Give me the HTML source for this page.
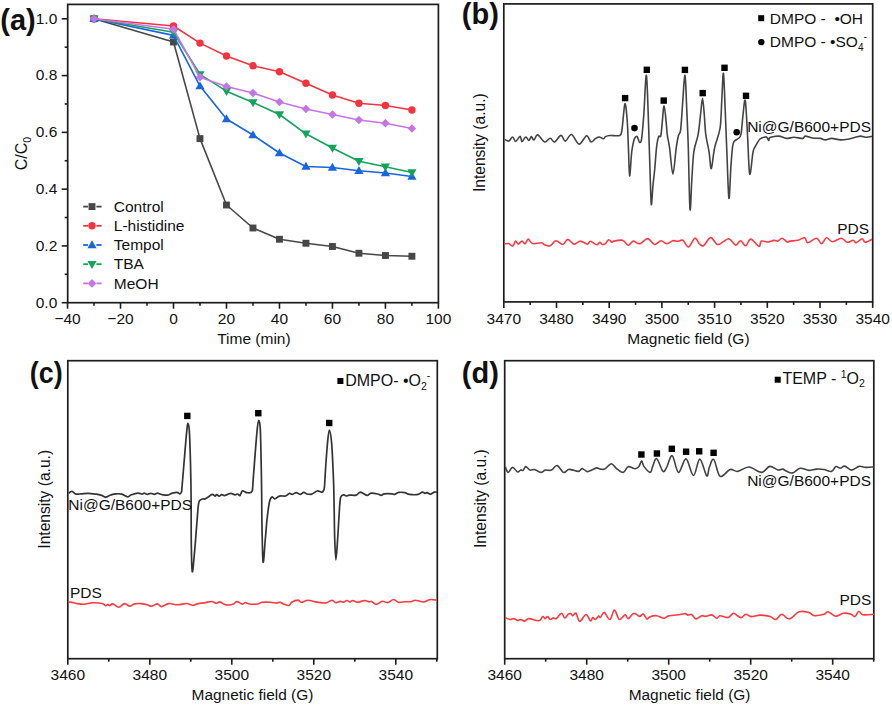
<!DOCTYPE html>
<html><head><meta charset="utf-8"><style>
html,body{margin:0;padding:0;background:#fff;}
svg{display:block;font-family:"Liberation Sans", sans-serif;fill:#111;}
</style></head><body>
<svg width="892" height="707" viewBox="0 0 892 707">
<rect x="0" y="0" width="892" height="707" fill="#fff"/>
<rect x="67.70" y="4.40" width="370.70" height="298.30" fill="none" stroke="#1c1c1c" stroke-width="1.7"/>
<line x1="61.70" y1="302.70" x2="67.70" y2="302.70" stroke="#1c1c1c" stroke-width="1.6"/>
<text x="57.30" y="307.50" font-size="15.5" text-anchor="end" >0.0</text>
<line x1="64.70" y1="274.31" x2="67.70" y2="274.31" stroke="#1c1c1c" stroke-width="1.6"/>
<line x1="61.70" y1="245.92" x2="67.70" y2="245.92" stroke="#1c1c1c" stroke-width="1.6"/>
<text x="57.30" y="250.72" font-size="15.5" text-anchor="end" >0.2</text>
<line x1="64.70" y1="217.53" x2="67.70" y2="217.53" stroke="#1c1c1c" stroke-width="1.6"/>
<line x1="61.70" y1="189.14" x2="67.70" y2="189.14" stroke="#1c1c1c" stroke-width="1.6"/>
<text x="57.30" y="193.94" font-size="15.5" text-anchor="end" >0.4</text>
<line x1="64.70" y1="160.75" x2="67.70" y2="160.75" stroke="#1c1c1c" stroke-width="1.6"/>
<line x1="61.70" y1="132.36" x2="67.70" y2="132.36" stroke="#1c1c1c" stroke-width="1.6"/>
<text x="57.30" y="137.16" font-size="15.5" text-anchor="end" >0.6</text>
<line x1="64.70" y1="103.97" x2="67.70" y2="103.97" stroke="#1c1c1c" stroke-width="1.6"/>
<line x1="61.70" y1="75.58" x2="67.70" y2="75.58" stroke="#1c1c1c" stroke-width="1.6"/>
<text x="57.30" y="80.38" font-size="15.5" text-anchor="end" >0.8</text>
<line x1="64.70" y1="47.19" x2="67.70" y2="47.19" stroke="#1c1c1c" stroke-width="1.6"/>
<line x1="61.70" y1="18.80" x2="67.70" y2="18.80" stroke="#1c1c1c" stroke-width="1.6"/>
<text x="57.30" y="23.60" font-size="15.5" text-anchor="end" >1.0</text>
<line x1="67.54" y1="302.70" x2="67.54" y2="308.70" stroke="#1c1c1c" stroke-width="1.6"/>
<text x="67.54" y="324.30" font-size="15.5" text-anchor="middle" >−40</text>
<line x1="94.03" y1="302.70" x2="94.03" y2="305.70" stroke="#1c1c1c" stroke-width="1.6"/>
<line x1="120.52" y1="302.70" x2="120.52" y2="308.70" stroke="#1c1c1c" stroke-width="1.6"/>
<text x="120.52" y="324.30" font-size="15.5" text-anchor="middle" >−20</text>
<line x1="147.01" y1="302.70" x2="147.01" y2="305.70" stroke="#1c1c1c" stroke-width="1.6"/>
<line x1="173.50" y1="302.70" x2="173.50" y2="308.70" stroke="#1c1c1c" stroke-width="1.6"/>
<text x="173.50" y="324.30" font-size="15.5" text-anchor="middle" >0</text>
<line x1="199.99" y1="302.70" x2="199.99" y2="305.70" stroke="#1c1c1c" stroke-width="1.6"/>
<line x1="226.48" y1="302.70" x2="226.48" y2="308.70" stroke="#1c1c1c" stroke-width="1.6"/>
<text x="226.48" y="324.30" font-size="15.5" text-anchor="middle" >20</text>
<line x1="252.97" y1="302.70" x2="252.97" y2="305.70" stroke="#1c1c1c" stroke-width="1.6"/>
<line x1="279.46" y1="302.70" x2="279.46" y2="308.70" stroke="#1c1c1c" stroke-width="1.6"/>
<text x="279.46" y="324.30" font-size="15.5" text-anchor="middle" >40</text>
<line x1="305.95" y1="302.70" x2="305.95" y2="305.70" stroke="#1c1c1c" stroke-width="1.6"/>
<line x1="332.44" y1="302.70" x2="332.44" y2="308.70" stroke="#1c1c1c" stroke-width="1.6"/>
<text x="332.44" y="324.30" font-size="15.5" text-anchor="middle" >60</text>
<line x1="358.93" y1="302.70" x2="358.93" y2="305.70" stroke="#1c1c1c" stroke-width="1.6"/>
<line x1="385.42" y1="302.70" x2="385.42" y2="308.70" stroke="#1c1c1c" stroke-width="1.6"/>
<text x="385.42" y="324.30" font-size="15.5" text-anchor="middle" >80</text>
<line x1="411.91" y1="302.70" x2="411.91" y2="305.70" stroke="#1c1c1c" stroke-width="1.6"/>
<line x1="438.40" y1="302.70" x2="438.40" y2="308.70" stroke="#1c1c1c" stroke-width="1.6"/>
<text x="438.40" y="324.30" font-size="15.5" text-anchor="middle" >100</text>
<text x="253.90" y="343.60" font-size="15.5" text-anchor="middle" >Time (min)</text>
<text transform="translate(27.4,153.6) rotate(-90)" font-size="16" text-anchor="middle">C/C<tspan font-size="10.5" dy="3.5">0</tspan></text>
<text transform="translate(0.30,29.80) scale(1.0,1)" font-size="29" font-weight="bold">(a)</text>
<path d="M94.0,18.8 L173.5,42.0 L200.0,138.6 L226.5,205.0 L253.0,228.0 L279.5,239.2 L305.9,243.2 L332.4,246.5 L358.9,253.2 L385.4,255.5 L411.9,256.2" fill="none" stroke="#474747" stroke-width="1.6" stroke-linejoin="round"/>
<rect x="90.58" y="15.30" width="6.90" height="6.90" fill="#474747"/>
<rect x="170.05" y="38.55" width="6.90" height="6.90" fill="#474747"/>
<rect x="196.54" y="135.15" width="6.90" height="6.90" fill="#474747"/>
<rect x="223.03" y="201.55" width="6.90" height="6.90" fill="#474747"/>
<rect x="249.52" y="224.55" width="6.90" height="6.90" fill="#474747"/>
<rect x="276.01" y="235.80" width="6.90" height="6.90" fill="#474747"/>
<rect x="302.50" y="239.80" width="6.90" height="6.90" fill="#474747"/>
<rect x="328.99" y="243.05" width="6.90" height="6.90" fill="#474747"/>
<rect x="355.48" y="249.80" width="6.90" height="6.90" fill="#474747"/>
<rect x="381.97" y="252.05" width="6.90" height="6.90" fill="#474747"/>
<rect x="408.46" y="252.80" width="6.90" height="6.90" fill="#474747"/>
<path d="M94.0,18.8 L173.5,26.0 L200.0,43.1 L226.5,56.0 L253.0,65.8 L279.5,71.8 L305.9,83.2 L332.4,95.0 L358.9,103.2 L385.4,105.5 L411.9,110.0" fill="none" stroke="#f5333f" stroke-width="1.6" stroke-linejoin="round"/>
<circle cx="94.03" cy="18.75" r="3.70" fill="#f5333f"/>
<circle cx="173.50" cy="26.00" r="3.70" fill="#f5333f"/>
<circle cx="199.99" cy="43.10" r="3.70" fill="#f5333f"/>
<circle cx="226.48" cy="56.00" r="3.70" fill="#f5333f"/>
<circle cx="252.97" cy="65.75" r="3.70" fill="#f5333f"/>
<circle cx="279.46" cy="71.75" r="3.70" fill="#f5333f"/>
<circle cx="305.95" cy="83.25" r="3.70" fill="#f5333f"/>
<circle cx="332.44" cy="95.00" r="3.70" fill="#f5333f"/>
<circle cx="358.93" cy="103.25" r="3.70" fill="#f5333f"/>
<circle cx="385.42" cy="105.50" r="3.70" fill="#f5333f"/>
<circle cx="411.91" cy="110.00" r="3.70" fill="#f5333f"/>
<path d="M94.0,18.8 L173.5,35.4 L200.0,86.1 L226.5,119.0 L253.0,135.0 L279.5,153.0 L305.9,166.5 L332.4,167.5 L358.9,170.8 L385.4,173.0 L411.9,176.5" fill="none" stroke="#1865e0" stroke-width="1.6" stroke-linejoin="round"/>
<path d="M94.03,14.06 L98.63,21.88 L89.43,21.88Z" fill="#1865e0"/>
<path d="M173.50,30.71 L178.10,38.53 L168.90,38.53Z" fill="#1865e0"/>
<path d="M199.99,81.41 L204.59,89.23 L195.39,89.23Z" fill="#1865e0"/>
<path d="M226.48,114.31 L231.08,122.13 L221.88,122.13Z" fill="#1865e0"/>
<path d="M252.97,130.31 L257.57,138.13 L248.37,138.13Z" fill="#1865e0"/>
<path d="M279.46,148.31 L284.06,156.13 L274.86,156.13Z" fill="#1865e0"/>
<path d="M305.95,161.81 L310.55,169.63 L301.35,169.63Z" fill="#1865e0"/>
<path d="M332.44,162.81 L337.04,170.63 L327.84,170.63Z" fill="#1865e0"/>
<path d="M358.93,166.06 L363.53,173.88 L354.33,173.88Z" fill="#1865e0"/>
<path d="M385.42,168.31 L390.02,176.13 L380.82,176.13Z" fill="#1865e0"/>
<path d="M411.91,171.81 L416.51,179.63 L407.31,179.63Z" fill="#1865e0"/>
<path d="M94.0,18.8 L173.5,32.2 L200.0,74.3 L226.5,91.2 L253.0,102.5 L279.5,114.5 L305.9,133.8 L332.4,148.0 L358.9,161.2 L385.4,166.8 L411.9,172.5" fill="none" stroke="#13a35a" stroke-width="1.6" stroke-linejoin="round"/>
<path d="M94.03,23.44 L98.63,15.62 L89.43,15.62Z" fill="#13a35a"/>
<path d="M173.50,36.89 L178.10,29.07 L168.90,29.07Z" fill="#13a35a"/>
<path d="M199.99,78.99 L204.59,71.17 L195.39,71.17Z" fill="#13a35a"/>
<path d="M226.48,95.94 L231.08,88.12 L221.88,88.12Z" fill="#13a35a"/>
<path d="M252.97,107.19 L257.57,99.37 L248.37,99.37Z" fill="#13a35a"/>
<path d="M279.46,119.19 L284.06,111.37 L274.86,111.37Z" fill="#13a35a"/>
<path d="M305.95,138.44 L310.55,130.62 L301.35,130.62Z" fill="#13a35a"/>
<path d="M332.44,152.69 L337.04,144.87 L327.84,144.87Z" fill="#13a35a"/>
<path d="M358.93,165.94 L363.53,158.12 L354.33,158.12Z" fill="#13a35a"/>
<path d="M385.42,171.44 L390.02,163.62 L380.82,163.62Z" fill="#13a35a"/>
<path d="M411.91,177.19 L416.51,169.37 L407.31,169.37Z" fill="#13a35a"/>
<path d="M94.0,18.8 L173.5,29.2 L200.0,77.2 L226.5,86.5 L253.0,93.0 L279.5,102.0 L305.9,109.0 L332.4,114.5 L358.9,120.0 L385.4,123.2 L411.9,128.5" fill="none" stroke="#c574e6" stroke-width="1.6" stroke-linejoin="round"/>
<path d="M94.03,14.45 L98.33,18.75 L94.03,23.05 L89.73,18.75Z" fill="#c574e6"/>
<path d="M173.50,24.90 L177.80,29.20 L173.50,33.50 L169.20,29.20Z" fill="#c574e6"/>
<path d="M199.99,72.90 L204.29,77.20 L199.99,81.50 L195.69,77.20Z" fill="#c574e6"/>
<path d="M226.48,82.20 L230.78,86.50 L226.48,90.80 L222.18,86.50Z" fill="#c574e6"/>
<path d="M252.97,88.70 L257.27,93.00 L252.97,97.30 L248.67,93.00Z" fill="#c574e6"/>
<path d="M279.46,97.70 L283.76,102.00 L279.46,106.30 L275.16,102.00Z" fill="#c574e6"/>
<path d="M305.95,104.70 L310.25,109.00 L305.95,113.30 L301.65,109.00Z" fill="#c574e6"/>
<path d="M332.44,110.20 L336.74,114.50 L332.44,118.80 L328.14,114.50Z" fill="#c574e6"/>
<path d="M358.93,115.70 L363.23,120.00 L358.93,124.30 L354.63,120.00Z" fill="#c574e6"/>
<path d="M385.42,118.95 L389.72,123.25 L385.42,127.55 L381.12,123.25Z" fill="#c574e6"/>
<path d="M411.91,124.20 L416.21,128.50 L411.91,132.80 L407.61,128.50Z" fill="#c574e6"/>
<line x1="83.20" y1="206.60" x2="88.00" y2="206.60" stroke="#474747" stroke-width="1.8"/>
<line x1="96.40" y1="206.60" x2="101.60" y2="206.60" stroke="#474747" stroke-width="1.8"/>
<rect x="88.55" y="203.15" width="6.90" height="6.90" fill="#474747"/>
<text x="113.80" y="211.80" font-size="15.5" text-anchor="start" >Control</text>
<line x1="83.20" y1="225.80" x2="88.00" y2="225.80" stroke="#f5333f" stroke-width="1.8"/>
<line x1="96.40" y1="225.80" x2="101.60" y2="225.80" stroke="#f5333f" stroke-width="1.8"/>
<circle cx="92.00" cy="225.80" r="3.70" fill="#f5333f"/>
<text x="113.80" y="231.00" font-size="15.5" text-anchor="start" >L-histidine</text>
<line x1="83.20" y1="245.00" x2="88.00" y2="245.00" stroke="#1865e0" stroke-width="1.8"/>
<line x1="96.40" y1="245.00" x2="101.60" y2="245.00" stroke="#1865e0" stroke-width="1.8"/>
<path d="M92.00,240.31 L96.60,248.13 L87.40,248.13Z" fill="#1865e0"/>
<text x="113.80" y="250.20" font-size="15.5" text-anchor="start" >Tempol</text>
<line x1="83.20" y1="264.20" x2="88.00" y2="264.20" stroke="#13a35a" stroke-width="1.8"/>
<line x1="96.40" y1="264.20" x2="101.60" y2="264.20" stroke="#13a35a" stroke-width="1.8"/>
<path d="M92.00,268.89 L96.60,261.07 L87.40,261.07Z" fill="#13a35a"/>
<text x="113.80" y="269.40" font-size="15.5" text-anchor="start" >TBA</text>
<line x1="83.20" y1="283.40" x2="88.00" y2="283.40" stroke="#c574e6" stroke-width="1.8"/>
<line x1="96.40" y1="283.40" x2="101.60" y2="283.40" stroke="#c574e6" stroke-width="1.8"/>
<path d="M92.00,279.10 L96.30,283.40 L92.00,287.70 L87.70,283.40Z" fill="#c574e6"/>
<text x="113.80" y="288.60" font-size="15.5" text-anchor="start" >MeOH</text>
<rect x="503.80" y="3.90" width="368.90" height="298.00" fill="none" stroke="#1c1c1c" stroke-width="1.7"/>
<line x1="503.80" y1="301.90" x2="503.80" y2="307.90" stroke="#1c1c1c" stroke-width="1.6"/>
<text x="503.80" y="323.80" font-size="15.5" text-anchor="middle" >3470</text>
<line x1="530.15" y1="301.90" x2="530.15" y2="304.90" stroke="#1c1c1c" stroke-width="1.6"/>
<line x1="556.50" y1="301.90" x2="556.50" y2="307.90" stroke="#1c1c1c" stroke-width="1.6"/>
<text x="556.50" y="323.80" font-size="15.5" text-anchor="middle" >3480</text>
<line x1="582.85" y1="301.90" x2="582.85" y2="304.90" stroke="#1c1c1c" stroke-width="1.6"/>
<line x1="609.20" y1="301.90" x2="609.20" y2="307.90" stroke="#1c1c1c" stroke-width="1.6"/>
<text x="609.20" y="323.80" font-size="15.5" text-anchor="middle" >3490</text>
<line x1="635.55" y1="301.90" x2="635.55" y2="304.90" stroke="#1c1c1c" stroke-width="1.6"/>
<line x1="661.90" y1="301.90" x2="661.90" y2="307.90" stroke="#1c1c1c" stroke-width="1.6"/>
<text x="661.90" y="323.80" font-size="15.5" text-anchor="middle" >3500</text>
<line x1="688.25" y1="301.90" x2="688.25" y2="304.90" stroke="#1c1c1c" stroke-width="1.6"/>
<line x1="714.60" y1="301.90" x2="714.60" y2="307.90" stroke="#1c1c1c" stroke-width="1.6"/>
<text x="714.60" y="323.80" font-size="15.5" text-anchor="middle" >3510</text>
<line x1="740.95" y1="301.90" x2="740.95" y2="304.90" stroke="#1c1c1c" stroke-width="1.6"/>
<line x1="767.30" y1="301.90" x2="767.30" y2="307.90" stroke="#1c1c1c" stroke-width="1.6"/>
<text x="767.30" y="323.80" font-size="15.5" text-anchor="middle" >3520</text>
<line x1="793.65" y1="301.90" x2="793.65" y2="304.90" stroke="#1c1c1c" stroke-width="1.6"/>
<line x1="820.00" y1="301.90" x2="820.00" y2="307.90" stroke="#1c1c1c" stroke-width="1.6"/>
<text x="820.00" y="323.80" font-size="15.5" text-anchor="middle" >3530</text>
<line x1="846.35" y1="301.90" x2="846.35" y2="304.90" stroke="#1c1c1c" stroke-width="1.6"/>
<line x1="872.70" y1="301.90" x2="872.70" y2="307.90" stroke="#1c1c1c" stroke-width="1.6"/>
<text x="872.70" y="323.80" font-size="15.5" text-anchor="middle" >3540</text>
<text x="688.40" y="343.60" font-size="15.5" text-anchor="middle" >Magnetic field (G)</text>
<text transform="translate(485.4,142.7) rotate(-90)" font-size="15.6" text-anchor="middle">Intensity (a.u.)</text>
<text transform="translate(461.80,23.80) scale(1.0,1)" font-size="29" font-weight="bold">(b)</text>
<path d="M505.0,139.5 C505.6,139.8 507.5,141.5 508.8,141.1 C510.1,140.7 511.5,136.9 512.6,137.0 C513.8,137.1 514.5,141.5 515.7,141.4 C517.0,141.3 519.1,136.4 520.1,136.4 C521.1,136.4 521.1,141.5 522.0,141.6 C522.9,141.7 524.6,137.2 525.7,137.0 C526.9,136.8 528.0,140.5 528.9,140.4 C529.8,140.3 530.6,136.7 531.4,136.6 C532.2,136.5 532.8,140.2 533.9,139.9 C535.0,139.6 535.9,134.6 537.7,134.9 C539.5,135.2 542.5,141.4 544.6,142.0 C546.7,142.6 548.5,138.3 550.2,138.3 C551.9,138.3 552.8,142.5 554.6,142.0 C556.4,141.5 559.1,135.6 560.9,135.4 C562.7,135.2 563.5,141.2 565.3,141.1 C567.1,140.9 569.3,134.0 571.6,134.5 C573.9,135.0 576.6,144.0 579.1,144.2 C581.6,144.4 584.6,136.1 586.6,135.7 C588.6,135.3 589.5,141.5 591.0,142.0 C592.5,142.5 594.0,139.4 595.4,138.6 C596.8,137.8 597.9,137.0 599.2,137.0 C600.5,137.0 602.2,138.9 603.3,138.8 C604.3,138.7 604.4,137.2 605.5,136.6 C606.6,136.0 607.5,135.7 609.9,135.5 C612.3,135.3 617.7,136.4 619.7,135.5 C621.7,134.6 621.3,133.5 621.9,130.1 C622.5,126.7 623.0,119.4 623.5,115.0 C624.0,110.6 624.6,102.4 625.2,103.8 C625.9,105.2 626.9,115.8 627.4,123.5 C627.9,131.2 628.1,141.2 628.5,150.0 C628.9,158.8 629.1,175.7 629.6,176.0 C630.1,176.3 631.1,157.7 631.7,152.0 C632.4,146.3 633.0,144.4 633.5,142.0 C634.0,139.6 634.4,138.6 635.0,137.7 C635.6,136.8 636.5,135.9 637.2,136.6 C637.9,137.3 638.7,141.7 639.4,142.1 C640.1,142.5 640.9,143.4 641.6,138.8 C642.3,134.2 643.0,125.3 643.8,114.7 C644.6,104.1 645.6,73.5 646.4,75.3 C647.2,77.1 648.0,109.9 648.6,125.7 C649.2,141.5 649.5,156.9 650.0,170.0 C650.5,183.1 650.8,202.0 651.3,204.5 C651.8,207.0 652.4,190.8 653.0,185.0 C653.6,179.2 654.1,175.7 654.7,169.5 C655.3,163.3 655.9,153.2 656.5,147.8 C657.1,142.4 657.9,138.8 658.6,136.8 C659.3,134.8 660.2,138.2 660.8,135.7 C661.4,133.2 661.8,126.9 662.3,122.0 C662.8,117.1 663.4,105.8 664.1,106.1 C664.8,106.4 665.8,118.7 666.3,123.6 C666.8,128.5 666.8,131.7 667.4,135.7 C668.0,139.7 668.7,141.4 669.6,147.8 C670.5,154.2 671.8,174.1 672.9,174.1 C674.0,174.1 675.3,154.2 676.2,147.8 C677.1,141.4 677.7,138.6 678.4,135.7 C679.1,132.8 679.9,135.3 680.6,130.2 C681.3,125.1 681.8,114.1 682.5,105.0 C683.2,95.9 684.3,74.6 685.0,75.4 C685.7,76.2 686.2,97.9 686.8,110.0 C687.3,122.1 687.8,131.3 688.3,147.8 C688.8,164.3 689.4,203.8 690.0,209.2 C690.6,214.6 691.2,189.5 691.8,180.0 C692.4,170.5 692.8,159.7 693.8,152.1 C694.8,144.5 697.0,140.8 698.1,134.6 C699.2,128.4 699.8,121.0 700.5,115.0 C701.2,109.0 701.9,98.4 702.5,98.4 C703.1,98.4 703.8,109.0 704.3,115.0 C704.8,121.0 705.0,128.4 705.8,134.6 C706.6,140.8 708.2,146.4 709.1,152.1 C710.0,157.8 710.4,169.3 711.3,168.6 C712.2,167.9 713.1,154.6 714.6,147.8 C716.1,141.0 718.9,136.0 720.1,128.0 C721.3,120.0 721.2,109.1 721.8,100.0 C722.3,90.9 722.9,72.4 723.4,73.2 C723.9,74.0 724.5,92.6 725.0,105.0 C725.5,117.4 726.1,132.3 726.7,147.8 C727.4,163.3 728.2,195.3 728.9,198.2 C729.6,201.1 730.3,174.1 731.0,165.0 C731.7,155.9 732.1,147.7 733.2,143.4 C734.3,139.1 736.3,140.5 737.6,139.0 C738.9,137.5 740.0,138.6 740.9,134.6 C741.8,130.6 742.3,120.7 743.0,115.0 C743.7,109.3 744.5,97.3 745.3,100.6 C746.0,103.9 746.8,122.3 747.5,134.6 C748.2,146.8 748.8,171.2 749.7,174.1 C750.6,177.0 752.1,156.7 753.0,152.1 C753.9,147.5 754.0,148.9 755.2,146.7 C756.4,144.5 758.3,140.6 760.0,139.0 C761.7,137.4 764.1,137.3 765.3,137.0 C766.4,136.7 766.3,136.7 766.9,137.3 C767.5,137.9 768.3,140.4 768.8,140.5 C769.3,140.6 768.3,138.3 770.0,137.6 C771.7,136.9 776.1,136.0 778.8,136.1 C781.5,136.2 783.9,138.2 786.4,138.4 C788.9,138.6 791.2,137.3 793.9,137.3 C796.6,137.3 800.8,138.6 802.7,138.4 C804.6,138.2 803.5,136.2 805.2,136.1 C806.9,136.0 810.2,137.6 812.7,138.0 C815.2,138.4 818.2,138.1 820.3,138.4 C822.4,138.7 823.4,139.9 825.3,139.9 C827.2,139.9 829.1,138.4 831.6,138.4 C834.1,138.4 837.7,139.8 840.4,139.9 C843.1,140.0 845.4,139.6 847.9,139.2 C850.4,138.8 853.3,137.8 855.4,137.3 C857.5,136.8 858.6,136.1 860.5,136.1 C862.4,136.1 864.8,137.3 866.7,137.3 C868.6,137.3 871.1,136.5 872.0,136.3" fill="none" stroke="#424242" stroke-width="1.6" stroke-linejoin="round"/>
<path d="M504.4,243.8 C505.1,243.8 507.4,243.2 508.8,243.6 C510.2,244.0 511.5,246.5 512.6,246.1 C513.8,245.7 514.8,241.4 515.7,241.1 C516.6,240.8 517.2,244.1 518.2,244.1 C519.2,244.1 520.9,241.1 522.0,241.1 C523.1,241.1 524.1,244.1 525.1,243.8 C526.1,243.5 527.0,239.1 528.3,239.1 C529.5,239.1 530.4,243.0 532.6,243.6 C534.8,244.2 539.3,242.6 541.4,242.8 C543.5,243.1 543.7,244.6 545.2,245.1 C546.7,245.6 548.4,246.4 550.2,245.7 C552.0,245.0 553.8,240.9 555.9,240.7 C558.0,240.5 560.8,244.7 562.8,244.5 C564.8,244.3 565.9,239.5 567.8,239.4 C569.7,239.3 572.0,243.8 574.1,244.1 C576.2,244.4 578.2,241.1 580.4,241.1 C582.6,241.1 585.6,244.1 587.3,244.1 C589.0,244.1 588.8,241.2 590.4,241.3 C592.0,241.4 595.1,244.6 596.7,244.8 C598.3,245.0 598.9,242.4 599.8,242.3 C600.7,242.2 601.3,244.3 602.3,244.5 C603.2,244.7 604.5,244.4 605.5,243.6 C606.5,242.8 607.5,240.0 608.6,239.8 C609.7,239.6 611.1,242.0 612.0,242.2 C612.9,242.4 612.0,241.4 613.8,241.1 C615.6,240.8 620.2,239.6 622.6,240.3 C625.0,241.0 626.4,245.2 628.2,245.3 C630.0,245.4 631.3,241.3 633.2,241.1 C635.1,240.8 637.1,244.2 639.5,243.8 C641.9,243.4 645.2,238.5 647.7,238.6 C650.2,238.7 652.4,244.2 654.6,244.5 C656.8,244.8 658.8,240.8 660.9,240.7 C663.0,240.6 665.1,243.8 667.1,243.8 C669.1,243.8 671.0,241.1 672.8,240.7 C674.6,240.3 676.1,241.4 677.8,241.3 C679.5,241.2 681.0,239.4 682.8,240.3 C684.6,241.2 686.5,247.3 688.5,247.0 C690.5,246.7 693.0,238.8 694.8,238.2 C696.6,237.6 697.8,242.3 699.2,243.6 C700.7,244.8 701.6,246.7 703.5,245.7 C705.4,244.7 708.3,237.9 710.5,237.6 C712.7,237.3 715.1,243.0 716.7,244.1 C718.3,245.2 718.8,244.3 720.0,243.9 C721.2,243.5 722.2,242.2 723.8,241.4 C725.4,240.6 727.4,238.3 729.4,238.9 C731.4,239.5 733.8,244.8 735.7,245.1 C737.6,245.4 739.0,240.6 740.7,240.7 C742.4,240.8 744.0,246.1 745.7,245.8 C747.4,245.5 748.6,239.0 750.8,239.1 C753.0,239.2 757.1,246.1 758.9,246.4 C760.7,246.7 759.8,241.8 761.4,241.1 C763.0,240.4 766.2,242.1 768.3,242.0 C770.4,241.9 772.4,240.6 774.0,240.4 C775.6,240.2 776.4,241.5 777.8,241.1 C779.2,240.7 780.6,238.0 782.2,238.2 C783.8,238.3 785.9,241.5 787.2,242.0 C788.5,242.5 788.1,241.4 789.9,241.1 C791.7,240.8 795.3,240.9 797.8,240.3 C800.3,239.7 803.1,237.3 804.7,237.7 C806.4,238.1 805.7,242.6 807.7,242.7 C809.7,242.8 814.3,238.1 816.6,238.3 C818.9,238.5 820.0,243.8 821.6,243.7 C823.2,243.6 824.7,238.0 826.5,237.7 C828.3,237.4 829.9,241.6 832.4,241.7 C834.9,241.8 838.8,238.2 841.3,238.3 C843.8,238.4 845.3,242.0 847.3,242.3 C849.3,242.6 851.7,240.2 853.2,240.3 C854.7,240.4 854.7,243.0 856.2,242.7 C857.7,242.4 860.6,238.8 862.1,238.7 C863.6,238.6 863.5,242.2 865.1,242.3 C866.8,242.4 870.9,239.8 872.0,239.3" fill="none" stroke="#fb3a42" stroke-width="1.6" stroke-linejoin="round"/>
<rect x="621.90" y="94.90" width="6.40" height="6.40" fill="#000"/>
<rect x="643.60" y="66.60" width="6.40" height="6.40" fill="#000"/>
<rect x="660.50" y="97.40" width="6.40" height="6.40" fill="#000"/>
<rect x="681.70" y="66.70" width="6.40" height="6.40" fill="#000"/>
<rect x="699.50" y="89.90" width="6.40" height="6.40" fill="#000"/>
<rect x="721.30" y="64.60" width="6.40" height="6.40" fill="#000"/>
<rect x="742.80" y="92.60" width="6.40" height="6.40" fill="#000"/>
<circle cx="634.50" cy="128.10" r="3.30" fill="#000"/>
<circle cx="736.70" cy="132.30" r="3.30" fill="#000"/>
<rect x="758.20" y="15.20" width="6.00" height="6.00" fill="#000"/>
<circle cx="761.30" cy="42.10" r="3.20" fill="#000"/>
<text x="769.80" y="24.10" font-size="15.5" text-anchor="start" >DMPO - &#160;•OH</text>
<text x="769.80" y="47.40" font-size="15.5" text-anchor="start" >DMPO - •SO<tspan font-size="10" dy="3.5">4</tspan><tspan font-size="10" dy="-11">-</tspan></text>
<text x="871.00" y="131.50" font-size="15.5" text-anchor="end" >Ni@G/B600+PDS</text>
<text x="869.00" y="234.40" font-size="15.5" text-anchor="end" >PDS</text>
<rect x="67.80" y="360.70" width="369.50" height="298.00" fill="none" stroke="#1c1c1c" stroke-width="1.7"/>
<line x1="67.80" y1="658.70" x2="67.80" y2="664.70" stroke="#1c1c1c" stroke-width="1.6"/>
<text x="67.80" y="680.00" font-size="15.5" text-anchor="middle" >3460</text>
<line x1="108.80" y1="658.70" x2="108.80" y2="661.70" stroke="#1c1c1c" stroke-width="1.6"/>
<line x1="149.80" y1="658.70" x2="149.80" y2="664.70" stroke="#1c1c1c" stroke-width="1.6"/>
<text x="149.80" y="680.00" font-size="15.5" text-anchor="middle" >3480</text>
<line x1="190.80" y1="658.70" x2="190.80" y2="661.70" stroke="#1c1c1c" stroke-width="1.6"/>
<line x1="231.80" y1="658.70" x2="231.80" y2="664.70" stroke="#1c1c1c" stroke-width="1.6"/>
<text x="231.80" y="680.00" font-size="15.5" text-anchor="middle" >3500</text>
<line x1="272.80" y1="658.70" x2="272.80" y2="661.70" stroke="#1c1c1c" stroke-width="1.6"/>
<line x1="313.80" y1="658.70" x2="313.80" y2="664.70" stroke="#1c1c1c" stroke-width="1.6"/>
<text x="313.80" y="680.00" font-size="15.5" text-anchor="middle" >3520</text>
<line x1="354.80" y1="658.70" x2="354.80" y2="661.70" stroke="#1c1c1c" stroke-width="1.6"/>
<line x1="395.80" y1="658.70" x2="395.80" y2="664.70" stroke="#1c1c1c" stroke-width="1.6"/>
<text x="395.80" y="680.00" font-size="15.5" text-anchor="middle" >3540</text>
<line x1="436.80" y1="658.70" x2="436.80" y2="661.70" stroke="#1c1c1c" stroke-width="1.6"/>
<text x="252.50" y="700.40" font-size="15.45" text-anchor="middle" >Magnetic field (G)</text>
<text transform="translate(49.7,499.3) rotate(-90)" font-size="15.6" text-anchor="middle">Intensity (a.u.)</text>
<text transform="translate(29.70,383.00) scale(0.93,1)" font-size="29" font-weight="bold">(c)</text>
<path d="M68.7,493.1 C69.2,492.8 70.8,491.2 72.0,491.4 C73.2,491.6 74.5,493.7 76.1,494.1 C77.7,494.5 79.4,493.9 81.4,493.8 C83.4,493.7 85.7,493.2 88.2,493.3 C90.7,493.4 94.0,493.9 96.2,494.2 C98.4,494.5 100.0,494.9 101.6,495.4 C103.2,495.9 104.1,497.2 105.7,497.1 C107.3,497.0 109.2,495.4 111.0,494.9 C112.8,494.3 114.6,493.9 116.4,493.8 C118.2,493.7 120.2,493.7 121.8,494.1 C123.4,494.5 125.0,495.7 126.0,496.1 C127.0,496.6 127.1,497.0 128.0,496.8 C128.9,496.6 129.7,495.4 131.4,494.8 C133.1,494.2 136.3,493.2 138.1,493.1 C139.9,493.0 141.1,494.1 142.1,494.1 C143.1,494.1 143.3,493.1 144.2,493.1 C145.1,493.1 146.4,494.3 147.5,494.3 C148.6,494.3 149.8,493.3 150.9,493.3 C152.0,493.3 153.1,494.3 154.2,494.3 C155.3,494.3 156.4,493.1 157.6,493.1 C158.8,493.1 159.9,494.2 161.6,494.5 C163.3,494.8 165.9,495.3 167.7,495.1 C169.5,494.9 170.8,493.6 172.4,493.1 C174.0,492.7 175.9,492.3 177.1,492.4 C178.3,492.5 179.1,493.9 179.8,493.8 C180.5,493.7 181.0,493.1 181.4,492.0 C181.8,490.9 181.4,494.0 182.0,487.2 C182.6,480.4 184.2,460.5 185.0,451.1 C185.8,441.7 186.3,435.2 186.8,430.6 C187.3,426.0 187.4,423.4 187.8,423.4 C188.2,423.4 188.9,424.0 189.3,430.6 C189.8,437.2 190.2,451.7 190.5,463.1 C190.8,474.5 191.0,485.7 191.1,499.2 C191.2,512.7 191.1,532.1 191.3,544.2 C191.5,556.3 191.7,570.8 192.3,571.8 C192.9,572.8 193.9,558.8 194.7,550.2 C195.5,541.6 196.5,527.5 197.1,520.1 C197.7,512.7 197.9,508.8 198.3,505.6 C198.7,502.4 198.8,501.9 199.5,500.8 C200.2,499.7 201.6,499.3 202.5,499.0 C203.4,498.7 203.8,499.4 204.7,499.1 C205.6,498.8 206.9,497.9 208.1,497.1 C209.3,496.3 210.9,494.5 212.1,494.4 C213.3,494.2 214.5,496.2 215.2,496.2 C215.9,496.2 215.8,494.6 216.5,494.6 C217.2,494.6 218.3,496.1 219.2,496.1 C220.0,496.1 220.8,494.7 221.6,494.6 C222.4,494.5 223.2,495.6 224.2,495.6 C225.2,495.6 226.5,494.8 227.6,494.4 C228.7,494.0 229.8,493.3 231.0,493.4 C232.2,493.5 233.9,494.7 235.0,494.8 C236.1,494.9 236.9,493.9 237.7,494.0 C238.5,494.1 239.3,496.1 240.0,495.6 C240.7,495.1 241.4,491.8 242.1,491.1 C242.8,490.4 243.6,491.2 244.4,491.5 C245.2,491.8 245.8,492.7 247.1,492.7 C248.4,492.7 251.0,493.6 252.0,491.4 C253.0,489.2 252.6,486.6 253.2,479.4 C253.8,472.2 254.9,456.7 255.6,448.1 C256.3,439.5 256.9,432.2 257.4,427.6 C257.9,423.0 258.2,420.4 258.7,420.4 C259.2,420.4 259.8,421.0 260.2,427.6 C260.6,434.2 260.9,448.5 261.1,460.1 C261.4,471.7 261.6,486.8 261.7,497.0 C261.8,507.2 261.7,510.3 261.9,521.1 C262.1,531.9 262.5,559.0 263.1,562.0 C263.7,565.0 264.6,546.4 265.3,539.2 C266.0,532.0 266.4,524.9 267.1,518.7 C267.8,512.5 268.7,505.4 269.5,501.8 C270.3,498.2 271.0,497.5 271.9,497.0 C272.8,496.5 273.6,498.9 274.9,498.8 C276.1,498.7 277.6,496.6 279.4,496.1 C281.2,495.6 283.8,496.4 285.5,496.0 C287.2,495.6 288.4,493.7 289.5,493.4 C290.6,493.1 291.1,494.5 292.2,494.4 C293.3,494.3 294.9,492.7 296.3,492.7 C297.7,492.7 299.1,494.4 300.3,494.4 C301.5,494.3 302.6,492.5 303.7,492.4 C304.8,492.3 305.7,493.7 307.0,494.0 C308.3,494.3 310.0,494.6 311.7,494.1 C313.4,493.6 315.5,491.3 317.2,491.0 C318.9,490.7 321.0,492.2 322.0,492.2 C323.0,492.2 322.8,491.8 323.2,491.0 C323.6,490.2 324.0,491.2 324.4,487.4 C324.8,483.6 325.1,475.3 325.6,468.1 C326.1,460.9 326.8,450.4 327.4,444.1 C328.0,437.8 328.6,430.2 329.3,430.2 C330.0,430.2 331.0,435.8 331.7,444.1 C332.4,452.4 333.1,470.1 333.5,480.2 C333.9,490.3 333.9,495.4 334.1,505.0 C334.3,514.6 334.4,529.0 334.7,538.1 C335.0,547.2 335.4,559.8 335.9,559.8 C336.4,559.8 337.1,546.7 337.7,538.1 C338.3,529.5 339.0,514.8 339.5,508.0 C340.0,501.2 340.0,499.4 340.7,497.2 C341.4,495.0 342.8,495.0 343.7,494.8 C344.6,494.6 345.2,495.9 346.1,496.0 C347.1,496.1 347.7,495.2 349.4,495.1 C351.1,495.0 354.3,495.6 356.2,495.1 C358.1,494.6 358.7,492.1 360.5,492.1 C362.3,492.2 365.1,495.2 366.9,495.4 C368.6,495.6 369.2,493.3 371.0,493.1 C372.8,492.9 376.0,493.6 377.7,494.0 C379.4,494.4 380.0,495.3 381.1,495.3 C382.2,495.3 382.6,494.1 384.4,493.8 C386.2,493.6 390.4,493.7 392.1,493.8 C393.8,493.9 393.6,494.6 394.7,494.4 C395.8,494.2 397.1,492.7 398.8,492.4 C400.5,492.1 403.0,492.3 404.8,492.6 C406.6,492.9 407.2,494.1 409.5,494.4 C411.8,494.7 416.2,494.8 418.3,494.4 C420.4,494.0 421.2,492.3 422.3,492.1 C423.4,491.9 424.2,493.2 425.0,493.3 C425.8,493.4 426.1,492.5 427.0,492.6 C427.9,492.8 429.2,494.3 430.4,494.2 C431.6,494.1 433.3,492.4 434.4,492.1 C435.5,491.8 436.7,492.3 437.1,492.4" fill="none" stroke="#333" stroke-width="1.7" stroke-linejoin="round"/>
<path d="M68.0,602.6 C68.5,602.5 69.2,601.9 70.7,602.1 C72.2,602.3 74.8,603.2 77.0,603.6 C79.2,604.0 81.4,604.4 84.1,604.3 C86.8,604.1 90.1,602.8 93.1,602.7 C96.1,602.6 100.0,603.0 102.1,603.5 C104.2,604.0 104.7,605.6 105.7,605.7 C106.7,605.8 107.2,604.3 107.9,604.3 C108.6,604.3 108.9,605.8 109.7,605.7 C110.5,605.6 111.3,603.6 112.8,603.9 C114.3,604.1 116.8,607.2 118.7,607.2 C120.7,607.2 122.6,603.8 124.5,603.6 C126.4,603.5 128.2,606.2 129.9,606.3 C131.6,606.3 132.5,604.3 134.4,603.9 C136.3,603.5 139.2,603.4 141.5,603.6 C143.8,603.8 146.3,604.5 148.0,605.0 C149.7,605.5 150.0,606.5 151.6,606.3 C153.2,606.1 155.8,603.8 157.4,603.9 C159.1,604.0 159.6,606.6 161.5,606.6 C163.4,606.6 165.9,603.9 168.6,603.6 C171.3,603.3 174.6,604.8 177.6,604.8 C180.6,604.8 184.1,603.4 186.6,603.5 C189.1,603.6 190.9,605.2 192.8,605.2 C194.7,605.2 196.1,604.0 198.2,603.6 C200.3,603.2 203.2,603.0 205.4,602.6 C207.7,602.2 209.9,601.4 211.7,601.5 C213.5,601.6 214.9,603.2 216.2,603.3 C217.5,603.4 218.4,601.8 219.7,601.9 C221.0,602.0 222.8,603.7 224.2,604.2 C225.6,604.7 226.5,605.0 228.0,605.0 C229.5,605.0 231.9,604.7 233.4,604.1 C234.9,603.5 235.5,601.6 237.0,601.6 C238.5,601.6 240.9,604.0 242.3,604.1 C243.7,604.2 244.3,602.5 245.5,602.5 C246.7,602.5 247.5,603.8 249.5,604.0 C251.5,604.2 255.5,604.3 257.6,604.0 C259.7,603.7 260.0,602.6 262.1,602.3 C264.2,602.0 267.8,602.1 270.2,602.2 C272.6,602.3 274.8,603.1 276.4,603.1 C278.0,603.1 278.8,602.1 280.0,602.2 C281.2,602.4 282.1,603.5 283.6,604.0 C285.1,604.5 287.6,605.8 289.0,605.5 C290.4,605.2 290.2,603.1 291.7,602.2 C293.2,601.3 296.4,600.1 298.0,600.1 C299.6,600.1 299.8,602.3 301.5,602.3 C303.2,602.3 305.4,600.2 308.0,600.2 C310.6,600.2 314.0,601.7 317.0,602.1 C320.0,602.5 323.4,603.2 325.9,602.9 C328.4,602.6 330.1,600.3 331.8,600.3 C333.5,600.2 334.4,602.4 335.8,602.6 C337.2,602.8 339.0,601.5 340.3,601.4 C341.6,601.3 342.3,602.2 343.4,602.1 C344.5,602.0 345.9,600.5 347.0,600.5 C348.1,600.5 348.7,602.0 349.7,602.0 C350.7,602.0 351.5,600.5 352.8,600.5 C354.1,600.5 355.4,602.3 357.3,602.3 C359.2,602.3 362.6,600.6 364.5,600.5 C366.4,600.4 367.8,601.8 369.0,601.9 C370.2,602.0 370.4,601.0 371.6,601.4 C372.8,601.8 374.3,604.4 376.1,604.4 C377.9,604.4 380.4,601.5 382.3,601.2 C384.2,600.9 385.8,602.9 387.7,602.6 C389.6,602.3 391.8,599.5 393.6,599.5 C395.4,599.5 396.5,601.9 398.5,602.3 C400.5,602.7 403.6,601.8 405.7,601.7 C407.8,601.6 409.4,601.9 411.0,601.7 C412.6,601.5 413.4,600.2 415.5,600.3 C417.6,600.3 421.2,602.1 423.6,602.0 C426.0,601.9 427.7,599.9 429.9,599.6 C432.1,599.3 435.8,600.1 437.0,600.2" fill="none" stroke="#fb3a42" stroke-width="1.6" stroke-linejoin="round"/>
<rect x="184.10" y="412.70" width="6.40" height="6.40" fill="#000"/>
<rect x="255.10" y="410.00" width="6.40" height="6.40" fill="#000"/>
<rect x="326.00" y="419.80" width="6.40" height="6.40" fill="#000"/>
<rect x="337.40" y="378.00" width="6.00" height="6.00" fill="#000"/>
<text x="345.20" y="386.00" font-size="16" text-anchor="start" >DMPO- •O<tspan font-size="10.5" dy="3.5">2</tspan><tspan font-size="10.5" dy="-11">-</tspan></text>
<text x="68.30" y="510.30" font-size="15.5" text-anchor="start" >Ni@G/B600+PDS</text>
<text x="70.00" y="598.00" font-size="15.5" text-anchor="start" >PDS</text>
<rect x="504.70" y="360.70" width="369.10" height="298.00" fill="none" stroke="#1c1c1c" stroke-width="1.7"/>
<line x1="504.70" y1="658.70" x2="504.70" y2="664.70" stroke="#1c1c1c" stroke-width="1.6"/>
<text x="504.70" y="680.00" font-size="15.5" text-anchor="middle" >3460</text>
<line x1="545.70" y1="658.70" x2="545.70" y2="661.70" stroke="#1c1c1c" stroke-width="1.6"/>
<line x1="586.70" y1="658.70" x2="586.70" y2="664.70" stroke="#1c1c1c" stroke-width="1.6"/>
<text x="586.70" y="680.00" font-size="15.5" text-anchor="middle" >3480</text>
<line x1="627.70" y1="658.70" x2="627.70" y2="661.70" stroke="#1c1c1c" stroke-width="1.6"/>
<line x1="668.70" y1="658.70" x2="668.70" y2="664.70" stroke="#1c1c1c" stroke-width="1.6"/>
<text x="668.70" y="680.00" font-size="15.5" text-anchor="middle" >3500</text>
<line x1="709.70" y1="658.70" x2="709.70" y2="661.70" stroke="#1c1c1c" stroke-width="1.6"/>
<line x1="750.70" y1="658.70" x2="750.70" y2="664.70" stroke="#1c1c1c" stroke-width="1.6"/>
<text x="750.70" y="680.00" font-size="15.5" text-anchor="middle" >3520</text>
<line x1="791.70" y1="658.70" x2="791.70" y2="661.70" stroke="#1c1c1c" stroke-width="1.6"/>
<line x1="832.70" y1="658.70" x2="832.70" y2="664.70" stroke="#1c1c1c" stroke-width="1.6"/>
<text x="832.70" y="680.00" font-size="15.5" text-anchor="middle" >3540</text>
<line x1="873.70" y1="658.70" x2="873.70" y2="661.70" stroke="#1c1c1c" stroke-width="1.6"/>
<text x="689.60" y="700.40" font-size="15.45" text-anchor="middle" >Magnetic field (G)</text>
<text transform="translate(486.3,498.65) rotate(-90)" font-size="15.6" text-anchor="middle">Intensity (a.u.)</text>
<text transform="translate(461.80,383.00) scale(1.0,1)" font-size="29" font-weight="bold">(d)</text>
<path d="M505.3,467.0 C505.8,467.9 507.0,472.3 508.2,472.4 C509.4,472.5 511.0,467.5 512.6,467.4 C514.2,467.3 516.2,471.6 517.6,472.0 C519.0,472.4 519.8,470.2 520.7,469.9 C521.6,469.6 522.4,470.9 523.2,470.4 C524.0,469.8 524.6,466.7 525.7,466.6 C526.9,466.6 528.6,469.6 530.1,470.1 C531.6,470.6 532.7,469.1 534.5,469.5 C536.3,469.9 539.0,472.3 540.8,472.4 C542.6,472.5 543.4,470.5 545.2,470.1 C547.0,469.7 549.5,470.9 551.5,470.1 C553.5,469.3 555.1,465.1 557.1,465.5 C559.1,465.9 561.5,471.7 563.4,472.4 C565.3,473.1 566.9,469.9 568.4,469.5 C569.9,469.1 570.5,469.6 572.2,469.9 C573.9,470.2 576.8,471.6 578.5,471.4 C580.2,471.2 580.7,468.6 582.2,468.6 C583.7,468.6 585.5,471.5 587.3,471.6 C589.1,471.8 591.3,470.1 592.9,469.5 C594.5,468.9 595.4,468.0 596.7,467.9 C598.0,467.8 599.1,468.9 600.5,469.1 C601.9,469.3 603.2,469.8 605.0,468.9 C606.8,468.0 609.4,463.8 611.3,463.7 C613.2,463.6 614.3,466.9 616.3,468.3 C618.3,469.8 621.2,472.7 623.2,472.4 C625.2,472.1 626.2,467.3 628.2,466.7 C630.2,466.1 633.3,468.8 635.1,468.7 C636.9,468.6 637.8,467.7 638.9,466.4 C640.0,465.1 640.9,460.8 641.7,460.8 C642.5,460.8 642.5,464.5 643.9,466.4 C645.3,468.3 648.7,472.4 650.2,472.4 C651.7,472.4 651.6,468.7 652.7,466.4 C653.8,464.1 655.0,457.8 656.7,458.6 C658.4,459.4 661.2,469.7 662.8,471.2 C664.4,472.7 664.9,470.3 666.5,467.7 C668.1,465.1 670.2,454.9 672.2,455.7 C674.2,456.5 676.2,471.9 678.5,472.4 C680.8,472.9 683.5,458.4 686.0,458.9 C688.5,459.4 691.2,475.5 693.5,475.5 C695.8,475.5 697.6,459.1 699.8,459.1 C702.0,459.2 705.1,474.5 706.7,475.8 C708.3,477.1 708.2,469.7 709.4,467.0 C710.6,464.3 712.0,457.9 713.8,459.5 C715.6,461.1 717.4,474.7 720.1,476.4 C722.8,478.1 727.2,470.3 730.1,469.5 C733.0,468.7 734.6,471.8 737.7,471.4 C740.9,471.0 745.0,466.8 749.0,467.0 C753.0,467.2 758.0,472.5 761.5,472.4 C765.0,472.3 767.0,466.8 769.7,466.4 C772.4,466.0 775.6,469.4 777.8,469.9 C780.0,470.3 781.5,468.9 782.9,469.1 C784.3,469.3 784.7,470.5 786.3,471.1 C787.9,471.7 790.3,473.4 792.6,472.9 C794.9,472.4 797.4,468.7 800.1,468.3 C802.8,467.9 806.2,470.3 808.9,470.4 C811.6,470.5 813.9,469.2 816.4,469.1 C818.9,469.0 821.4,469.1 823.9,469.5 C826.4,469.9 829.5,471.9 831.5,471.4 C833.5,470.9 834.4,467.1 835.9,466.6 C837.4,466.1 838.8,468.4 840.3,468.3 C841.8,468.2 842.8,465.8 844.7,466.1 C846.6,466.4 849.2,470.1 851.6,470.1 C854.0,470.2 856.8,466.8 859.1,466.4 C861.4,465.9 862.9,467.3 865.4,467.4 C867.9,467.5 872.5,467.1 873.9,467.0" fill="none" stroke="#424242" stroke-width="1.6" stroke-linejoin="round"/>
<path d="M505.0,617.4 C505.8,617.8 508.5,619.3 510.0,619.5 C511.5,619.7 512.5,618.5 513.8,618.6 C515.1,618.8 516.5,620.2 517.6,620.4 C518.8,620.5 519.6,619.4 520.7,619.5 C521.9,619.6 523.1,621.2 524.5,621.1 C525.9,621.0 526.5,618.7 528.9,618.6 C531.3,618.5 536.6,621.1 538.9,620.8 C541.2,620.5 541.7,617.0 542.7,616.6 C543.8,616.2 544.4,618.6 545.2,618.6 C546.0,618.6 546.9,616.5 547.7,616.6 C548.5,616.8 549.2,619.3 550.2,619.5 C551.2,619.7 552.4,618.0 553.4,617.9 C554.4,617.8 555.1,619.4 556.5,618.6 C557.9,617.8 560.1,613.3 561.5,613.2 C562.9,613.1 563.6,617.8 564.7,617.9 C565.9,618.0 567.4,614.8 568.4,614.1 C569.4,613.4 570.2,613.3 570.9,613.6 C571.6,613.9 571.9,615.8 572.8,615.7 C573.6,615.6 574.9,612.2 576.0,613.2 C577.1,614.2 578.0,621.2 579.7,621.4 C581.4,621.6 584.2,614.6 586.0,614.5 C587.8,614.4 589.2,620.3 590.4,620.8 C591.5,621.3 592.1,617.8 592.9,617.6 C593.7,617.4 594.4,619.8 595.4,619.5 C596.4,619.2 597.8,616.5 598.6,616.1 C599.5,615.8 599.6,618.0 600.5,617.4 C601.4,616.8 602.6,612.0 604.2,612.4 C605.8,612.8 608.2,619.9 609.9,619.5 C611.6,619.1 612.8,610.1 614.4,610.1 C616.0,610.1 617.6,618.7 619.4,619.5 C621.2,620.3 623.6,615.0 625.1,614.9 C626.6,614.8 626.7,618.9 628.2,618.6 C629.7,618.3 632.0,613.6 633.9,613.2 C635.8,612.8 637.9,616.2 639.5,616.4 C641.1,616.5 642.0,613.6 643.3,614.1 C644.5,614.6 646.0,618.6 647.0,619.1 C648.0,619.6 648.0,617.6 649.6,617.0 C651.2,616.4 654.1,615.5 656.5,615.7 C658.9,615.9 661.9,618.3 664.0,618.3 C666.1,618.3 666.3,616.3 669.0,615.7 C671.7,615.1 677.6,614.9 680.3,614.5 C683.0,614.1 684.0,613.5 685.3,613.6 C686.5,613.7 686.8,615.0 687.8,615.1 C688.8,615.2 690.2,613.9 691.6,614.5 C693.0,615.1 694.3,618.7 696.0,618.9 C697.7,619.1 700.1,616.1 701.7,615.7 C703.3,615.3 703.7,616.5 705.4,616.4 C707.1,616.3 709.8,614.6 711.7,614.9 C713.6,615.2 715.3,618.2 716.7,618.3 C718.1,618.4 718.2,615.8 720.0,615.7 C721.8,615.6 725.5,618.0 727.7,617.6 C730.0,617.2 731.9,613.5 733.5,613.2 C735.1,612.9 736.1,615.0 737.4,615.7 C738.7,616.4 739.8,617.8 741.2,617.6 C742.6,617.4 744.4,614.5 746.0,614.3 C747.6,614.1 748.5,616.5 750.9,616.6 C753.3,616.7 757.3,615.1 760.5,615.1 C763.7,615.1 767.5,615.9 770.1,616.6 C772.7,617.3 774.0,619.9 775.9,619.5 C777.8,619.1 779.5,614.4 781.7,614.3 C784.0,614.2 786.5,619.4 789.4,619.0 C792.3,618.6 795.9,612.9 799.1,611.8 C802.3,610.7 806.1,611.8 808.7,612.4 C811.3,613.0 811.9,615.4 814.5,615.7 C817.1,616.0 821.9,614.9 824.1,614.3 C826.4,613.6 826.1,611.5 828.0,611.8 C829.9,612.1 833.1,616.1 835.7,616.3 C838.3,616.5 840.8,613.5 843.4,613.2 C846.0,612.9 849.2,613.7 851.1,614.3 C853.0,614.9 853.7,617.1 855.0,616.6 C856.3,616.1 857.5,611.5 858.8,611.2 C860.1,610.9 860.1,614.2 862.7,614.7 C865.3,615.2 872.4,614.4 874.3,614.3" fill="none" stroke="#fb3a42" stroke-width="1.6" stroke-linejoin="round"/>
<rect x="638.20" y="451.30" width="6.40" height="6.40" fill="#000"/>
<rect x="653.70" y="450.30" width="6.40" height="6.40" fill="#000"/>
<rect x="668.60" y="445.60" width="6.40" height="6.40" fill="#000"/>
<rect x="682.90" y="448.50" width="6.40" height="6.40" fill="#000"/>
<rect x="696.00" y="448.10" width="6.40" height="6.40" fill="#000"/>
<rect x="710.40" y="449.60" width="6.40" height="6.40" fill="#000"/>
<rect x="774.70" y="376.70" width="6.00" height="6.00" fill="#000"/>
<text x="782.40" y="383.60" font-size="16" text-anchor="start" >TEMP - <tspan font-size="10.5" dy="-6">1</tspan><tspan dy="6">O</tspan><tspan font-size="10.5" dy="3.5">2</tspan></text>
<text x="871.00" y="485.80" font-size="15.5" text-anchor="end" >Ni@G/B600+PDS</text>
<text x="871.40" y="605.10" font-size="15.5" text-anchor="end" >PDS</text>
</svg>
</body></html>
